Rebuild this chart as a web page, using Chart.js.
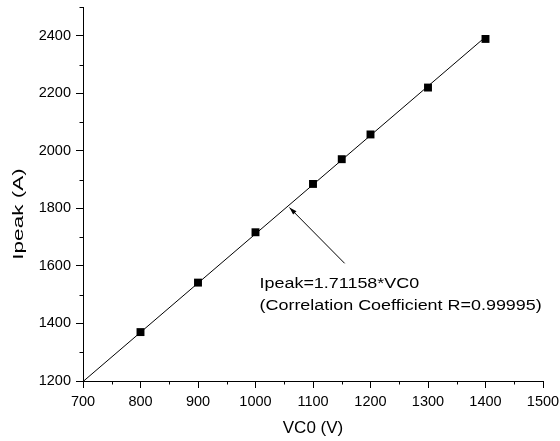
<!DOCTYPE html>
<html><head><meta charset="utf-8">
<script src="https://cdn.jsdelivr.net/npm/chart.js@4.4.1/dist/chart.umd.min.js"></script>
<style>html,body{margin:0;padding:0;background:#fff}#wrap{width:560px;height:441px}</style>
</head><body><div id="wrap"><canvas id="c" width="560" height="441"></canvas></div>
<script>
const vc0 = [800, 900, 1000, 1100, 1150, 1200, 1300, 1400];
const ipeak = [1370, 1542, 1717, 1885, 1971, 2057, 2220, 2389];
const fitX = [700, 1400];
const fitY = [1198, 2396];
const xTicks = [700, 800, 900, 1000, 1100, 1200, 1300, 1400, 1500];
const yTicks = [1200, 1400, 1600, 1800, 2000, 2200, 2400];
const xTitle = 'VC0 (V)';
const yTitle = 'Ipeak (A)';
const annotationLines = ['Ipeak=1.71158*VC0', '(Correlation Coefficient R=0.99995)'];

const FONT = '"Liberation Sans", Arial, sans-serif';
Chart.defaults.font.family = FONT;
Chart.defaults.color = '#000';

const extras = {
  id: 'extras',
  afterDraw(chart) {
    const ctx = chart.ctx, xs = chart.scales.x, ys = chart.scales.y;
    ctx.save();
    ctx.strokeStyle = '#000'; ctx.lineWidth = 1;
    ctx.beginPath();
    for (let i = 0; i < xTicks.length - 1; i++) {
      const v = (xTicks[i] + xTicks[i + 1]) / 2;
      const px = Math.round(xs.getPixelForValue(v)) + 0.5;
      ctx.moveTo(px, ys.bottom); ctx.lineTo(px, ys.bottom + 3.5);
    }
    const ySteps = yTicks.concat([2600]);
    for (let i = 0; i < ySteps.length - 1; i++) {
      const v = (ySteps[i] + ySteps[i + 1]) / 2;
      const py = Math.round(ys.getPixelForValue(v)) + 0.5;
      ctx.moveTo(xs.left, py); ctx.lineTo(xs.left - 3.5, py);
    }
    ctx.stroke();

    // annotation arrow
    const tip = [xs.getPixelForValue(1059), ys.getPixelForValue(1803)];
    const tail = [xs.getPixelForValue(1155), ys.getPixelForValue(1609)];
    ctx.beginPath();
    ctx.moveTo(tail[0], tail[1]); ctx.lineTo(tip[0], tip[1]);
    ctx.stroke();
    const ang = Math.atan2(tip[1] - tail[1], tip[0] - tail[0]);
    const L = 8, W = 0.3;
    ctx.fillStyle = '#000';
    ctx.beginPath();
    ctx.moveTo(tip[0], tip[1]);
    ctx.lineTo(tip[0] - L * Math.cos(ang - W), tip[1] - L * Math.sin(ang - W));
    ctx.lineTo(tip[0] - L * Math.cos(ang + W), tip[1] - L * Math.sin(ang + W));
    ctx.closePath(); ctx.fill();

    // annotation text
    ctx.textBaseline = 'alphabetic';
    ctx.textAlign = 'left';
    ctx.font = '15.4px ' + FONT;
    const tx = xs.getPixelForValue(1007);
    const ty = ys.getPixelForValue(1524);
    annotationLines.forEach((t, i) => {
      ctx.save();
      ctx.translate(tx, ty + i * 22.3);
      ctx.scale(1.165, 1);
      ctx.fillText(t, 0, 0);
      ctx.restore();
    });

    // x title
    ctx.font = '17px ' + FONT;
    ctx.textAlign = 'center';
    ctx.fillText(xTitle, (xs.left + xs.right) / 2, ys.bottom + 52);

    // y title
    ctx.save();
    ctx.font = '15px ' + FONT;
    ctx.translate(23.3, (ys.top + ys.bottom) / 2 + 20);
    ctx.rotate(-Math.PI / 2);
    ctx.scale(1.5, 1);
    ctx.fillText(yTitle, 0, 0);
    ctx.restore();
    ctx.restore();
  }
};

new Chart(document.getElementById('c'), {
  type: 'scatter',
  data: {
    datasets: [
      {
        data: fitX.map((x, i) => ({x, y: fitY[i]})),
        showLine: true, borderColor: '#000', borderWidth: 1, pointRadius: 0, fill: false
      },
      {
        data: vc0.map((x, i) => ({x, y: ipeak[i]})),
        showLine: false, pointStyle: 'rect', pointRadius: 5.6,
        backgroundColor: '#000', borderColor: '#000', borderWidth: 0
      }
    ]
  },
  options: {
    responsive: false, animation: false,
    layout: {padding: {top: 7, right: 17, left: 0, bottom: 0}},
    plugins: {legend: {display: false}, tooltip: {enabled: false}},
    scales: {
      x: {
        type: 'linear', min: 700, max: 1500,
        afterBuildTicks: s => { s.ticks = xTicks.map(v => ({value: v})); },
        ticks: {font: {size: 14.5}, color: '#000', padding: 5, maxRotation: 0, callback: v => String(v)},
        grid: {drawOnChartArea: false, drawTicks: true, tickLength: 7, color: '#000', lineWidth: 1},
        border: {display: true, color: '#000', width: 1},
        afterFit: s => { s.height = 60; s.paddingLeft = 0; s.paddingRight = 0; }
      },
      y: {
        type: 'linear', min: 1200, max: 2500,
        afterBuildTicks: s => { s.ticks = yTicks.map(v => ({value: v})); },
        ticks: {font: {size: 14.5}, color: '#000', padding: 5, callback: v => String(v)},
        grid: {drawOnChartArea: false, drawTicks: true, tickLength: 7, color: '#000', lineWidth: 1},
        border: {display: true, color: '#000', width: 1},
        afterFit: s => { s.width = 83; s.paddingTop = 0; s.paddingBottom = 0; }
      }
    }
  },
  plugins: [extras]
});
</script>
</body></html>
